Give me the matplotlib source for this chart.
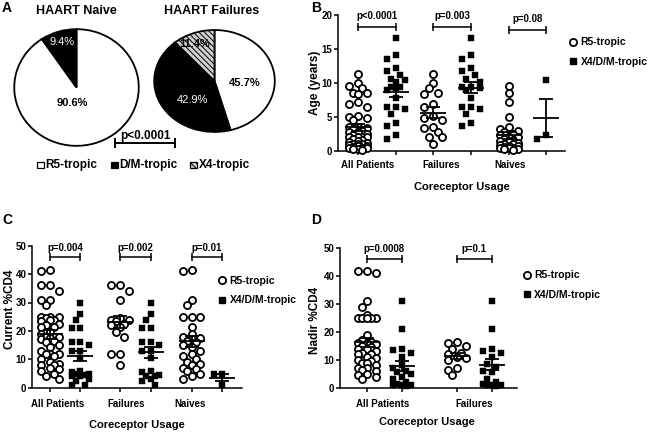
import numpy as np
import matplotlib
matplotlib.use("Agg")
import matplotlib.pyplot as plt
from matplotlib.patches import Rectangle
from matplotlib.lines import Line2D
from matplotlib.transforms import blended_transform_factory

plt.rcParams['font.family'] = ['Liberation Sans', 'DejaVu Sans']
plt.rcParams['font.weight'] = 'bold'
plt.rcParams['hatch.linewidth'] = 0.7

W, H = 650, 433

# ---- Panel A: coreceptor usage (%) ----
tropism_labels = ['R5-tropic', 'D/M-tropic', 'X4-tropic']
naive_pct = [90.6, 9.4]
failure_pct = [45.7, 42.9, 11.4]

# ---- Panel B: age (years) ----
age_all_r5 = [11.3, 10.0, 9.6, 9.2, 8.5, 8.5, 8.4, 7.2, 6.9, 6.5, 5.1, 5.0, 4.8, 4.6, 3.6,
              3.5, 3.4, 3.2, 3.0, 2.8, 2.8, 2.5, 2.3, 2.1, 2.0, 2.0, 2.0, 1.8, 1.6, 1.5,
              1.3, 1.2, 1.0, 1.0, 1.0, 0.9, 0.8, 0.7, 0.6, 0.5, 0.5, 0.4, 0.3, 0.3, 0.2]
age_all_x4 = [16.6, 14.1, 13.5, 12.2, 11.8, 11.2, 10.6, 10.4, 10.2, 9.4, 9.4, 9.2, 9.0,
              7.8, 6.4, 6.4, 6.2, 5.5, 4.1, 3.7, 2.3, 1.7]
age_fail_r5 = [11.3, 10.0, 9.2, 8.5, 8.4, 6.9, 6.5, 5.1, 4.8, 4.6, 3.6, 3.4, 2.8, 2.1, 2.0, 1.0]
age_fail_x4 = [16.6, 14.1, 13.5, 12.2, 11.8, 11.2, 10.6, 10.2, 9.4, 9.4, 9.2, 9.0, 7.8,
               6.4, 6.4, 6.2, 5.5, 4.1, 3.7]
age_naive_r5 = [9.6, 8.5, 7.2, 5.0, 3.5, 3.2, 3.0, 2.8, 2.5, 2.3, 2.0, 2.0, 1.8, 1.6, 1.5,
                1.3, 1.2, 1.0, 1.0, 0.9, 0.8, 0.7, 0.6, 0.5, 0.5, 0.4, 0.3, 0.3, 0.2]
age_naive_x4 = [10.4, 2.3, 1.7]

# ---- Panel C: current %CD4 ----
cd4_all_r5 = [41.5, 41, 36, 36, 34.2, 31, 31, 29, 25, 25, 25, 24.5, 24, 24, 23.5, 22.5,
              22, 21.5, 21.5, 19.5, 19, 18, 18, 17.5, 17, 16.5, 16, 15, 14.5, 13, 12, 12,
              12, 11, 10, 9, 8.5, 8, 8, 7, 6.5, 6, 5, 4, 3]
cd4_all_x4 = [30, 26, 24, 21, 21, 16, 16, 15, 13, 13, 10.5, 6, 5.5, 5, 4.7, 4.5, 4, 4,
              3, 2.5, 1, 1]
cd4_fail_r5 = [36, 36, 34.2, 31, 24.5, 24, 24, 23.5, 22.5, 22, 21.5, 19.5, 18, 12, 12, 8]
cd4_fail_x4 = [30, 26, 24, 21, 21, 16, 16, 15, 13, 13, 10.5, 6, 5.5, 4.5, 4, 4, 3, 2.5, 1]
cd4_naive_r5 = [41.5, 41, 31, 29, 25, 25, 25, 21.5, 19, 18, 17.5, 17, 16.5, 16, 15, 14.5,
                13, 12, 11, 10, 9, 8.5, 8, 7, 6.5, 6, 5, 4, 3]
cd4_naive_x4 = [5, 4.7, 1]

# ---- Panel D: nadir %CD4 ----
nadir_all_r5 = [42, 42, 41, 31, 29, 26, 25, 25, 25, 25, 25, 19, 17, 16.5, 16, 16, 15.5,
                15, 14.5, 14, 14, 13, 12.5, 12, 12, 11, 10.5, 10, 9.5, 9, 9, 8, 7, 7,
                6.5, 6, 5, 4.5, 4, 3]
nadir_all_x4 = [31, 21, 14, 13.5, 12.5, 11, 8, 7, 6, 5.5, 5, 4, 3, 2, 1.5, 1, 1, 1, 0.5]
nadir_fail_r5 = [16.5, 16, 15, 14, 12.5, 12, 11, 10.5, 10, 7, 6.5, 4.5]
nadir_fail_x4 = [31, 21, 14, 13, 12.5, 11, 8.5, 7.5, 6, 5.5, 3, 2, 1.5, 1, 1, 1, 0.5]

groups_bc = ['All Patients', 'Failures', 'Naives']
groups_d = ['All Patients', 'Failures']
pvals_b = ['p<0.0001', 'p=0.003', 'p=0.08']
pvals_c = ['p=0.004', 'p=0.002', 'p=0.01']
pvals_d = ['p=0.0008', 'p=0.1']

fig = plt.figure(figsize=(6.5, 4.33), dpi=100)


def px_axes(x0, y_top, x1, y_bot):
    return fig.add_axes([x0 / W, 1 - y_bot / H, (x1 - x0) / W, (y_bot - y_top) / H])


def swarm(vals, ppu_y, unit_x, diam=7.0, step=4.5):
    # simple beeswarm around the column centre; overlap allowed when crowded
    vals = np.asarray(vals, float)
    cands = [0.0, -step, step, -2 * step, 2 * step]
    placed = []
    offs = np.zeros(len(vals))
    for i in np.argsort(-vals):
        y = vals[i] * ppu_y
        best, best_d = 0.0, -1.0
        for c in cands:
            d = min([np.hypot(c - px, y - py) for px, py in placed], default=1e9)
            if d >= diam:
                best = c
                break
            if d > best_d:
                best_d, best = d, c
        offs[i] = best / unit_x
        placed.append((best, y))
    return offs


def dot_panel(ax, series, positions, xlim, ylim, yticks, unit_x, ppu_y, step):
    for k, (vals, pos) in enumerate(zip(series, positions)):
        x = pos + swarm(vals, ppu_y, unit_x, step=step)
        if k % 2 == 0:
            ax.scatter(x, vals, s=26, marker='o', facecolors='white', edgecolors='black',
                       linewidths=1.3, clip_on=False, zorder=3)
        else:
            ax.scatter(x, vals, s=17, marker='s', facecolors='black', edgecolors='black',
                       linewidths=0.3, clip_on=False, zorder=3)
        m = np.mean(vals)
        sem = np.std(vals, ddof=1) / np.sqrt(len(vals))
        mh, ch = 13.0 / unit_x, 7.0 / unit_x
        ax.hlines(m, pos - mh, pos + mh, color='black', lw=1.3, zorder=5)
        ax.vlines(pos, m - sem, m + sem, color='black', lw=1.3, zorder=5)
        ax.hlines([m - sem, m + sem], pos - ch, pos + ch, color='black', lw=1.3, zorder=5)
    ax.set_xlim(*xlim)
    ax.set_ylim(*ylim)
    ax.set_xticks(positions)
    ax.set_xticklabels([])
    ax.set_yticks(yticks)
    for s in ['top', 'right']:
        ax.spines[s].set_visible(False)
    for s in ['left', 'bottom']:
        ax.spines[s].set_linewidth(1.1)
    ax.tick_params(direction='out', length=3, width=1.1, labelsize=7, pad=1)
    ax.patch.set_alpha(0)


def brackets(ax, pairs, labels, ys, dy_text, fs=7):
    for (a, b), lab, y in zip(pairs, labels, ys):
        ax.plot([a, b], [y, y], color='black', lw=1.1, marker='|', ms=6, mew=1.1,
                clip_on=False)
        ax.text((a + b) / 2, y + dy_text, lab, ha='center', va='center', fontsize=fs,
                clip_on=False)


def legend_at(ax, x, y):
    hs = [Line2D([], [], marker='o', ls='none', mfc='white', mec='black', mew=1.3, ms=5.2),
          Line2D([], [], marker='s', ls='none', mfc='black', mec='black', ms=4.3)]
    ax.legend(hs, ['R5-tropic', 'X4/D/M-tropic'], loc='center left',
              bbox_to_anchor=(x / W, 1 - y / H), bbox_transform=fig.transFigure,
              frameon=False, handlelength=0.8, handletextpad=0.3, labelspacing=0.9,
              borderpad=0, borderaxespad=0, prop={'size': 7.5, 'weight': 'bold'})


# overlay in pixel coordinates for free text
ov = fig.add_axes([0, 0, 1, 1], zorder=10)
ov.set_xlim(0, W)
ov.set_ylim(H, 0)
ov.axis('off')

# ---- Panel A ----
ax_n = px_axes(13, 28, 140, 147)
w_n, _ = ax_n.pie(naive_pct, colors=['white', 'black'], startangle=90, counterclock=False,
                  wedgeprops=dict(edgecolor='black', linewidth=1.3))
ax_f = px_axes(153, 29, 276, 133)
w_f, _ = ax_f.pie(failure_pct, colors=['white', 'black', '#cfcfcf'], startangle=90,
                  counterclock=False, wedgeprops=dict(edgecolor='black', linewidth=1.3))
w_f[2].set_hatch('\\\\\\\\\\\\')
for a in (ax_n, ax_f):
    a.set_aspect('auto')
    a.set_xlim(-1.02, 1.02)
    a.set_ylim(-1.02, 1.02)

ov.text(76, 11, 'HAART Naive', ha='center', va='center', fontsize=9)
ov.text(212, 11, 'HAART Failures', ha='center', va='center', fontsize=9)
ov.text(72, 103, '%.1f%%' % naive_pct[0], ha='center', va='center', fontsize=8)
ov.text(62, 42, '%.1f%%' % naive_pct[1], ha='center', va='center', fontsize=8,
        color='white', weight='normal')
ov.text(245, 83, '%.1f%%' % failure_pct[0], ha='center', va='center', fontsize=8)
ov.text(192, 100, '%.1f%%' % failure_pct[1], ha='center', va='center', fontsize=8,
        color='white', weight='normal')
ov.text(195, 44, '%.1f%%' % failure_pct[2], ha='center', va='center', fontsize=8)

ov.plot([115, 175], [143, 143], color='black', lw=1.4, marker='|', ms=7, mew=1.4)
ov.text(145, 136, 'p<0.0001', ha='center', va='center', fontsize=8.5)

leg_x = [37, 111, 190]
leg_fc = ['white', 'black', '#cfcfcf']
leg_hatch = [None, None, '\\\\\\\\\\\\']
for x, lab, fc, ht in zip(leg_x, tropism_labels, leg_fc, leg_hatch):
    ov.add_patch(Rectangle((x, 161.5), 6.5, 6.5, facecolor=fc, edgecolor='black',
                           lw=0.9, hatch=ht))
    ov.text(x + 8.5, 165, lab, ha='left', va='center', fontsize=8.5)

# ---- Panel B ----
ax_b = px_axes(338, 15, 565, 151)
pos_b = [1, 2, 3, 4, 5, 6]
dot_panel(ax_b, [age_all_r5, age_all_x4, age_fail_r5, age_fail_x4, age_naive_r5, age_naive_x4],
          pos_b, (0.47, 6.5), (0, 20), [0, 5, 10, 15, 20], 37.6, 6.8, 4.5)
brackets(ax_b, [(1, 2), (3, 4), (5, 6)], pvals_b, [18.2, 18.2, 17.8], 1.6)
legend_at(ax_b, 569, 52)
tb = blended_transform_factory(ax_b.transData, ov.transData)
for x, lab in zip([1.25, 3.2, 5.05], groups_bc):
    ov.text(x, 165, lab, transform=tb, ha='center', va='center', fontsize=7)
ov.text(462, 187, 'Coreceptor Usage', ha='center', va='center', fontsize=8)
ov.text(315, 83, 'Age (years)', ha='center', va='center', fontsize=8.5, rotation=90)

# ---- Panel C ----
ax_c = px_axes(32, 245.7, 242, 387.7)
pos_c = [1, 2, 3.3, 4.3, 5.65, 6.65]
dot_panel(ax_c, [cd4_all_r5, cd4_all_x4, cd4_fail_r5, cd4_fail_x4, cd4_naive_r5, cd4_naive_x4],
          pos_c, (0.41, 7.3), (0, 50), [0, 10, 20, 30, 40, 50], 30.5, 2.84, 4.3)
brackets(ax_c, [(1, 2), (3.3, 4.3), (5.65, 6.65)], pvals_c, [46.1, 46.1, 46.1], 3.2)
legend_at(ax_c, 218, 290.5)
tc = blended_transform_factory(ax_c.transData, ov.transData)
for x, lab in zip([1.25, 3.5, 5.6], groups_bc):
    ov.text(x, 404, lab, transform=tc, ha='center', va='center', fontsize=7)
ov.text(137, 425.5, 'Coreceptor Usage', ha='center', va='center', fontsize=8)
ov.text(10, 309, 'Current %CD4', ha='center', va='center', fontsize=8.5, rotation=90)

# ---- Panel D ----
ax_d = px_axes(340, 248.3, 516.7, 387.7)
pos_d = [1, 2, 3.57, 4.57]
dot_panel(ax_d, [nadir_all_r5, nadir_all_x4, nadir_fail_r5, nadir_fail_x4],
          pos_d, (0.24, 5.29), (0, 50), [0, 10, 20, 30, 40, 50], 35.0, 2.79, 4.5)
brackets(ax_d, [(1, 2), (3.57, 4.57)], pvals_d, [46.1, 46.1], 3.6)
legend_at(ax_d, 522.5, 285)
td = blended_transform_factory(ax_d.transData, ov.transData)
for x, lab in zip([1.45, 4.08], groups_d):
    ov.text(x, 404, lab, transform=td, ha='center', va='center', fontsize=7)
ov.text(427, 422, 'Coreceptor Usage', ha='center', va='center', fontsize=8)
ov.text(315, 320, 'Nadir %CD4', ha='center', va='center', fontsize=8.5, rotation=90)

# panel letters
for x, y, lab in [(7, 8, 'A'), (316, 8, 'B'), (7, 220, 'C'), (316, 220, 'D')]:
    ov.text(x, y, lab, ha='center', va='center', fontsize=10)

fig.savefig('out.png', dpi=100)
